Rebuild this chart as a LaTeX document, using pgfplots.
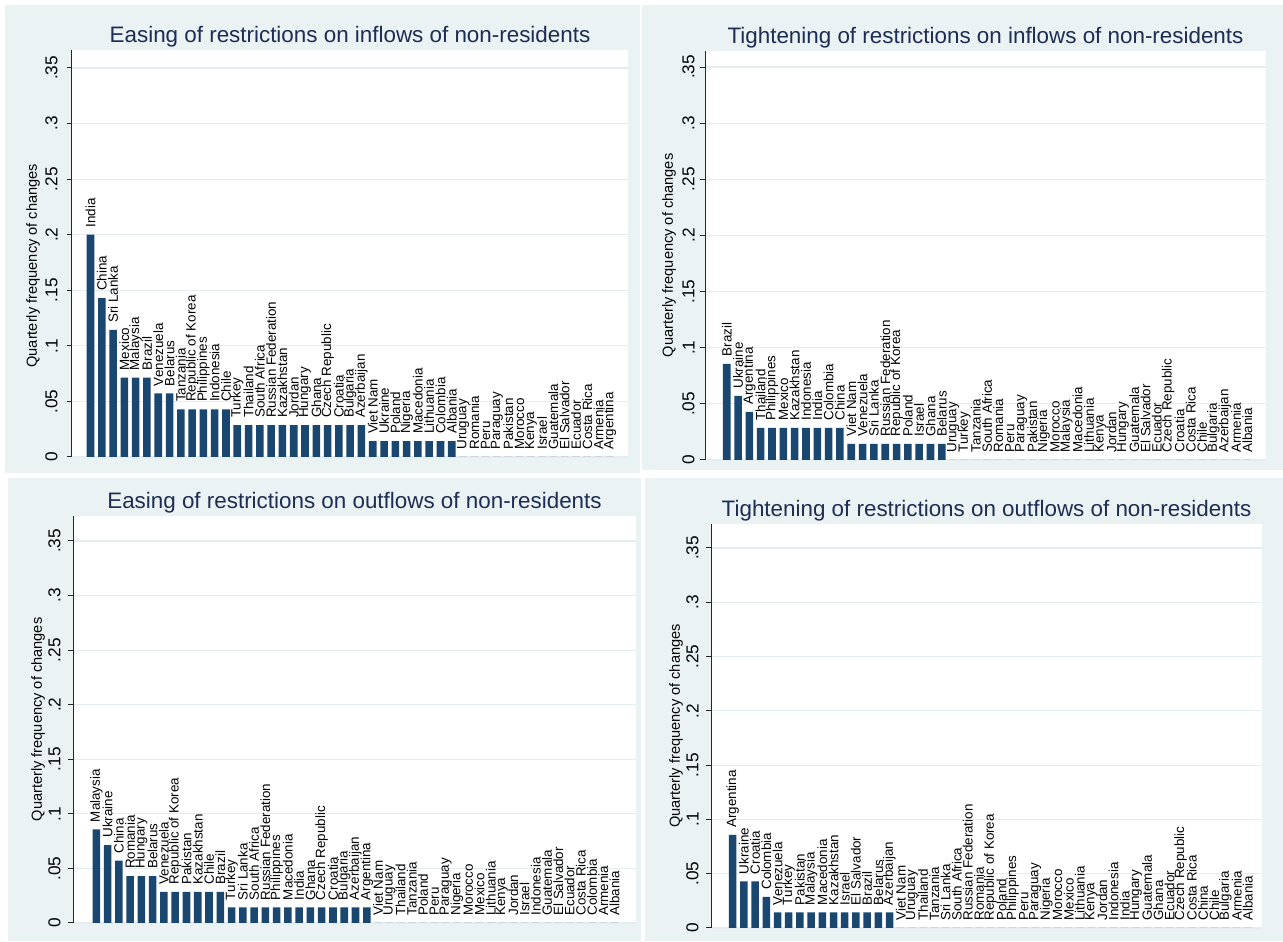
\documentclass[border=0pt]{standalone}
\usepackage{fontspec}
\setmainfont{Liberation Sans}
\usepackage{pgfplots}
\pgfplotsset{compat=1.18}
\usepackage{pgfplotstable}
\definecolor{bgc}{RGB}{234,242,243}
\definecolor{barc}{RGB}{26,71,111}
\definecolor{titc}{RGB}{30,45,83}
\definecolor{gridc}{RGB}{228,237,239}
\newcommand\labfont{\fontsize{6.7}{7}\selectfont}
\newcommand\tickfont{\fontsize{8.6}{9}\selectfont}
\newcommand\titfont{\fontsize{11.2}{12}\selectfont}
\newcommand\ylabfont{\fontsize{7.3}{8}\selectfont}

\pgfplotstableread[col sep=comma]{
x,y,name
1,0.200000,India
2,0.142857,China
3,0.114286,Sri Lanka
4,0.071429,Mexico
5,0.071429,Malaysia
6,0.071429,Brazil
7,0.057143,Venezuela
8,0.057143,Belarus
9,0.042857,Tanzania
10,0.042857,Republic of Korea
11,0.042857,Philippines
12,0.042857,Indonesia
13,0.042857,Chile
14,0.028571,Turkey
15,0.028571,Thailand
16,0.028571,South Africa
17,0.028571,Russian Federation
18,0.028571,Kazakhstan
19,0.028571,Jordan
20,0.028571,Hungary
21,0.028571,Ghana
22,0.028571,Czech Republic
23,0.028571,Croatia
24,0.028571,Bulgaria
25,0.028571,Azerbaijan
26,0.014286,Viet Nam
27,0.014286,Ukraine
28,0.014286,Poland
29,0.014286,Nigeria
30,0.014286,Macedonia
31,0.014286,Lithuania
32,0.014286,Colombia
33,0.014286,Albania
34,0,Uruguay
35,0,Romania
36,0,Peru
37,0,Paraguay
38,0,Pakistan
39,0,Morocco
40,0,Kenya
41,0,Israel
42,0,Guatemala
43,0,El Salvador
44,0,Ecuador
45,0,Costa Rica
46,0,Armenia
47,0,Argentina
}\tabA

\pgfplotstableread[col sep=comma]{
x,y,name
1,0.085714,Brazil
2,0.057143,Ukraine
3,0.042857,Argentina
4,0.028571,Thailand
5,0.028571,Philippines
6,0.028571,Mexico
7,0.028571,Kazakhstan
8,0.028571,Indonesia
9,0.028571,India
10,0.028571,Colombia
11,0.028571,China
12,0.014286,Viet Nam
13,0.014286,Venezuela
14,0.014286,Sri Lanka
15,0.014286,Russian Federation
16,0.014286,Republic of Korea
17,0.014286,Poland
18,0.014286,Israel
19,0.014286,Ghana
20,0.014286,Belarus
21,0,Uruguay
22,0,Turkey
23,0,Tanzania
24,0,South Africa
25,0,Romania
26,0,Peru
27,0,Paraguay
28,0,Pakistan
29,0,Nigeria
30,0,Morocco
31,0,Malaysia
32,0,Macedonia
33,0,Lithuania
34,0,Kenya
35,0,Jordan
36,0,Hungary
37,0,Guatemala
38,0,El Salvador
39,0,Ecuador
40,0,Czech Republic
41,0,Croatia
42,0,Costa Rica
43,0,Chile
44,0,Bulgaria
45,0,Azerbaijan
46,0,Armenia
47,0,Albania
}\tabB

\pgfplotstableread[col sep=comma]{
x,y,name
1,0.085714,Malaysia
2,0.071429,Ukraine
3,0.057143,China
4,0.042857,Romania
5,0.042857,Hungary
6,0.042857,Belarus
7,0.028571,Venezuela
8,0.028571,Republic of Korea
9,0.028571,Pakistan
10,0.028571,Kazakhstan
11,0.028571,Chile
12,0.028571,Brazil
13,0.014286,Turkey
14,0.014286,Sri Lanka
15,0.014286,South Africa
16,0.014286,Russian Federation
17,0.014286,Philippines
18,0.014286,Macedonia
19,0.014286,India
20,0.014286,Ghana
21,0.014286,Czech Republic
22,0.014286,Croatia
23,0.014286,Bulgaria
24,0.014286,Azerbaijan
25,0.014286,Argentina
26,0,Viet Nam
27,0,Uruguay
28,0,Thailand
29,0,Tanzania
30,0,Poland
31,0,Peru
32,0,Paraguay
33,0,Nigeria
34,0,Morocco
35,0,Mexico
36,0,Lithuania
37,0,Kenya
38,0,Jordan
39,0,Israel
40,0,Indonesia
41,0,Guatemala
42,0,El Salvador
43,0,Ecuador
44,0,Costa Rica
45,0,Colombia
46,0,Armenia
47,0,Albania
}\tabC

\pgfplotstableread[col sep=comma]{
x,y,name
1,0.085714,Argentina
2,0.042857,Ukraine
3,0.042857,Croatia
4,0.028571,Colombia
5,0.014286,Venezuela
6,0.014286,Turkey
7,0.014286,Pakistan
8,0.014286,Malaysia
9,0.014286,Macedonia
10,0.014286,Kazakhstan
11,0.014286,Israel
12,0.014286,El Salvador
13,0.014286,Brazil
14,0.014286,Belarus
15,0.014286,Azerbaijan
16,0,Viet Nam
17,0,Uruguay
18,0,Thailand
19,0,Tanzania
20,0,Sri Lanka
21,0,South Africa
22,0,Russian Federation
23,0,Romania
24,0,Republic of Korea
25,0,Poland
26,0,Philippines
27,0,Peru
28,0,Paraguay
29,0,Nigeria
30,0,Morocco
31,0,Mexico
32,0,Lithuania
33,0,Kenya
34,0,Jordan
35,0,Indonesia
36,0,India
37,0,Hungary
38,0,Guatemala
39,0,Ghana
40,0,Ecuador
41,0,Czech Republic
42,0,Costa Rica
43,0,China
44,0,Chile
45,0,Bulgaria
46,0,Armenia
47,0,Albania
}\tabD

\pgfplotsset{panel/.style={
  scale only axis, ybar, bar width=0.67, ymin=0,
  axis x line=none, axis y line*=left,
  axis line style={black!85, line width=0.5pt, -},
  xtick=\empty,
  ytick={0,0.05,0.1,0.15,0.2,0.25,0.3,0.35},
  yticklabels={0,.05,.1,.15,.2,.25,.3,.35},
  tick align=outside, major tick length=2.5pt,
  tick style={black!85, line width=0.5pt},
  yticklabel style={rotate=90, anchor=south, font=\tickfont, inner xsep=1.5pt, inner ysep=3.5pt},
  ymajorgrids, grid style={gridc, line width=0.6pt},
  axis background/.style={fill=white},
  every axis title shift=0pt,
  title style={font=\titfont, text=titc, at={(0.5,1)}, anchor=base, yshift=3.5pt},
  ylabel={Quarterly frequency of changes},
  nodes near coords, point meta=explicit symbolic,
  every node near coord/.append style={rotate=90, anchor=west, font=\labfont, black, inner xsep=3.5pt, inner ysep=0pt},
  clip=false,
}}

\begin{document}
\begin{tikzpicture}
\useasboundingbox (0,0) rectangle (641.5pt,470.5pt);
\fill[white] (0,0) rectangle (641.5pt,470.5pt);
\fill[bgc] (2.5pt,234pt) rectangle (320pt,468pt);
\fill[bgc] (321pt,235.5pt) rectangle (641.5pt,468pt);
\fill[bgc] (4pt,0pt) rectangle (320.5pt,231.5pt);
\fill[bgc] (322.5pt,0pt) rectangle (641.5pt,231.5pt);

% Panel 1
\begin{axis}[panel, at={(36pt,242pt)}, anchor=south west,
  width=278pt, height=203.5pt, xmin=-0.64, xmax=48.61, ymax=0.3662,
  title={Easing of restrictions on inflows of non-residents},
  yticklabel style={inner ysep=4.5pt},
  every axis y label/.style={at={([xshift=-19.5pt]axis description cs:0,0.47)}, rotate=90, anchor=center, font=\ylabfont}]
\addplot[fill=barc, draw=none] table[x=x,y=y,meta=name]{\tabA};
\end{axis}

% Panel 2
\begin{axis}[panel, at={(352.5pt,240.5pt)}, anchor=south west,
  width=280.5pt, height=204.5pt, xmin=-0.92, xmax=48.64, ymax=0.3643,
  title={Tightening of restrictions on inflows of non-residents},
  yticklabel style={inner ysep=2.5pt},
  every axis y label/.style={at={([xshift=-18pt]axis description cs:0,0.5)}, rotate=90, anchor=center, font=\ylabfont}]
\addplot[fill=barc, draw=none] table[x=x,y=y,meta=name]{\tabB};
\end{axis}

% Panel 3
\begin{axis}[panel, at={(36.5pt,9pt)}, anchor=south west,
  width=281.5pt, height=203.5pt, xmin=-1.07, xmax=48.89, ymax=0.3729,
  title={Easing of restrictions on outflows of non-residents},
  every axis y label/.style={at={([xshift=-17.5pt]axis description cs:0,0.5)}, rotate=90, anchor=center, font=\ylabfont}]
\addplot[fill=barc, draw=none] table[x=x,y=y,meta=name]{\tabC};
\end{axis}

% Panel 4
\begin{axis}[panel, at={(355.5pt,6.5pt)}, anchor=south west,
  width=275.5pt, height=202pt, xmin=-0.94, xmax=48.26, ymax=0.3721,
  title={Tightening of restrictions on outflows of non-residents},
  every axis y label/.style={at={([xshift=-17.5pt]axis description cs:0,0.5)}, rotate=90, anchor=center, font=\ylabfont}]
\addplot[fill=barc, draw=none] table[x=x,y=y,meta=name]{\tabD};
\end{axis}
\end{tikzpicture}
\end{document}
